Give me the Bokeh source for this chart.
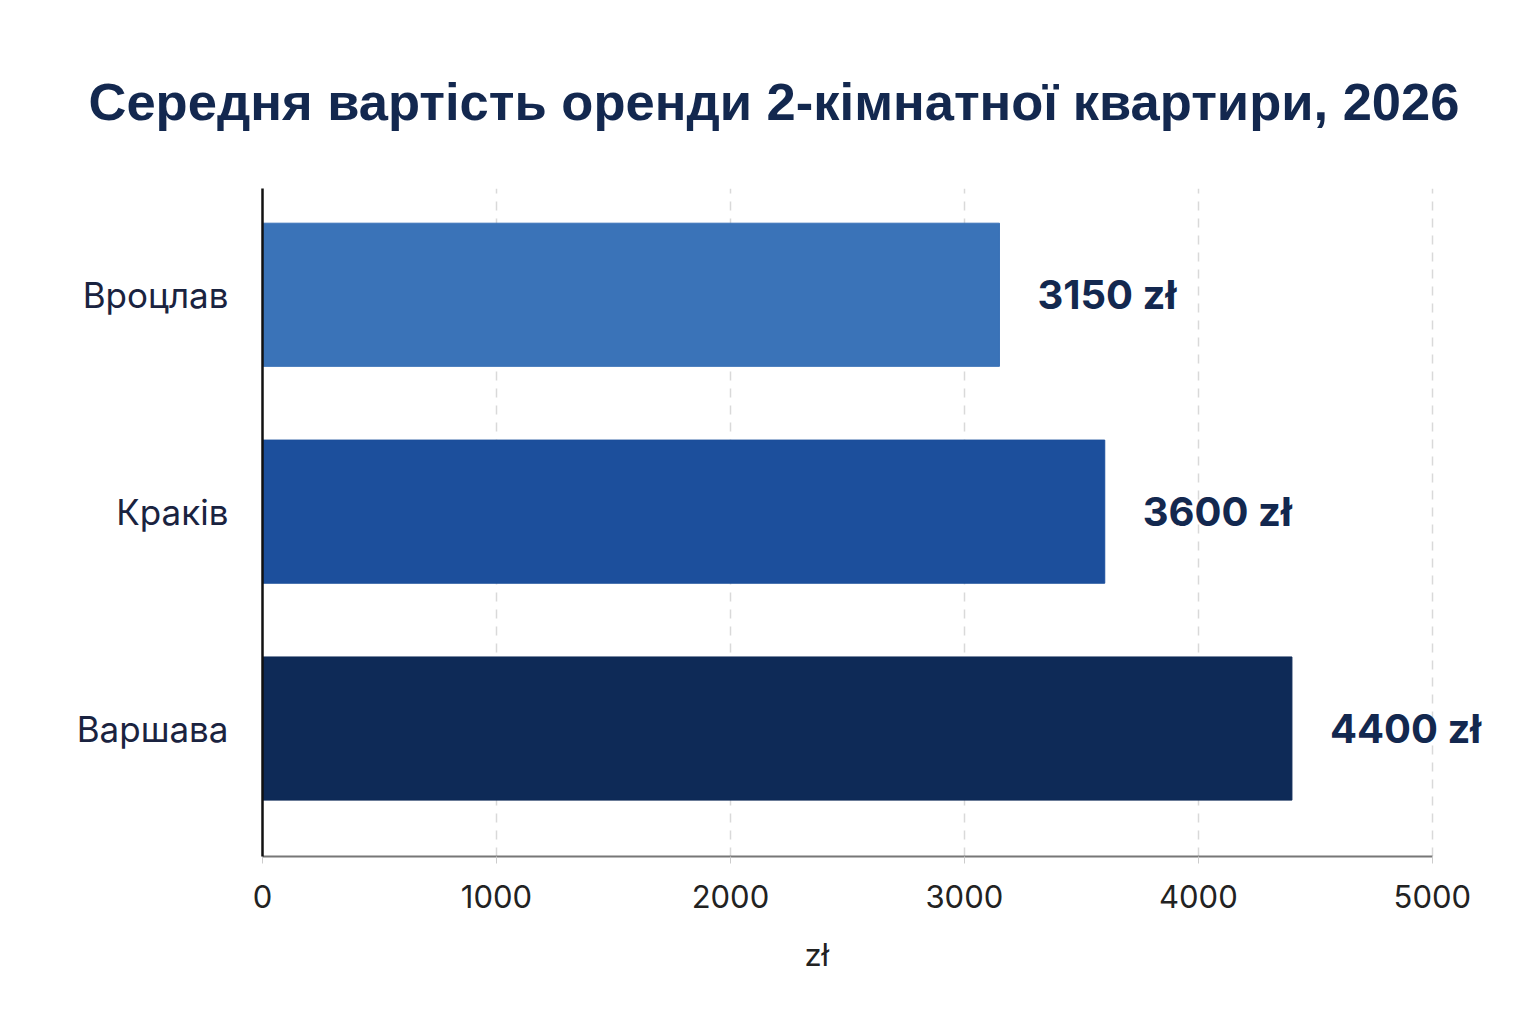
from bokeh.plotting import figure
from bokeh.models import Range1d, FixedTicker, ColumnDataSource, Label, Title
from bokeh.embed import file_html
from bokeh.resources import INLINE

cities = ["Варшава", "Краків", "Вроцлав"]
rents = [4400, 3600, 3150]
colors = ["#0e2a57", "#1c4f9c", "#3a73b8"]
labels = ["4400 zł", "3600 zł", "3150 zł"]
ticks = [0, 1000, 2000, 3000, 4000, 5000]

ypos = list(range(len(cities)))
src = ColumnDataSource(dict(y=ypos, rent=rents, color=colors, label=labels))

p = figure(
    y_range=Range1d(-0.59, len(cities) - 0.51),
    x_range=Range1d(0, 5300),
    frame_width=1240, frame_height=668,
    min_border_left=262, min_border_right=10, min_border_top=188, min_border_bottom=20,
    output_backend="svg", toolbar_location=None,
    title="Середня вартість оренди 2-кімнатної квартири, 2026",
)
p.outline_line_color = None
p.background_fill_color = "white"
p.border_fill_color = "white"

p.title.text_font = "Liberation Sans"
p.title.text_font_size = "52.5px"
p.title.text_font_style = "bold"
p.title.text_color = "#13284f"
p.title.align = "left"
p.title.offset = -174
p.title.standoff = 116

p.hbar(y="y", right="rent", left=0, height=0.66, color="color", source=src)
for yy, r, t in zip(ypos, rents, labels):
    p.add_layout(Label(x=r, y=yy, text=t, x_offset=38,
                       text_baseline="middle", text_align="left",
                       text_font="Inter", text_font_style="bold",
                       text_font_size="40px", text_color="#13284f"))

p.xgrid.ticker = FixedTicker(ticks=ticks[1:])
p.xgrid.grid_line_color = "#d9d9d9"
p.xgrid.grid_line_dash = "9 8"
p.xgrid.grid_line_width = 1.5
p.ygrid.grid_line_color = None

xa = p.xaxis[0]
xa.ticker = FixedTicker(ticks=ticks)
xa.bounds = (ticks[0], ticks[-1])
xa.axis_line_color = "#777777"
xa.axis_line_width = 2
xa.major_tick_line_color = "#cccccc"
xa.major_tick_out = 7
xa.major_tick_in = 0
xa.minor_tick_line_color = None
xa.major_label_text_font = "Inter"
xa.major_label_text_font_size = "31px"
xa.major_label_text_color = "#222222"
xa.major_label_standoff = 21

xlabel = Title(text="zł", align="left", offset=542, standoff=46,
               text_font="Inter", text_font_size="31px", text_font_style="normal",
               text_color="#222222")
p.add_layout(xlabel, "below")

ya = p.yaxis[0]
ya.ticker = FixedTicker(ticks=ypos)
ya.major_label_overrides = {i: c for i, c in zip(ypos, cities)}
ya.axis_line_color = "#111111"
ya.axis_line_width = 2.5
ya.major_tick_line_color = None
ya.minor_tick_line_color = None
ya.major_label_text_font = "Inter"
ya.major_label_text_font_size = "35px"
ya.major_label_text_color = "#1a2340"
ya.major_label_standoff = 28

open("out.html", "w").write(file_html(p, INLINE))
